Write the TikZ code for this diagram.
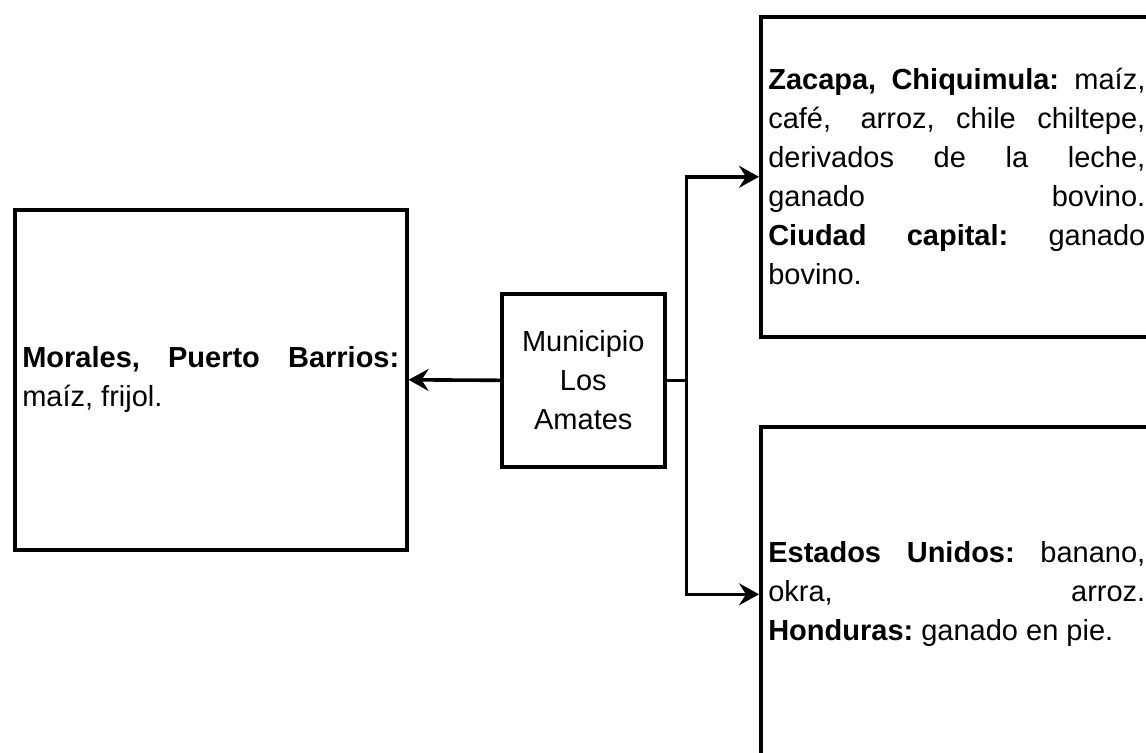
\documentclass[tikz,border=0pt]{standalone}
\usepackage{fontspec}
\setmainfont{Liberation Sans}
\usetikzlibrary{arrows.meta,positioning,calc}

\newlength{\boxtw}
\setlength{\boxtw}{188.5pt}
\newcommand{\jl}[1]{{\spaceskip=0pt\relax\xspaceskip=0pt\relax\makebox[\boxtw][s]{#1}}}

\begin{document}
\begin{tikzpicture}
[ x=0.5pt, y=-0.5pt,
  box/.style={ draw, line width=1.8pt, anchor=north west,
    text width=\boxtw, align=left, inner xsep=3.75pt, minimum width=196pt,
    font=\fontsize{14.5pt}{19.5pt}\selectfont,
    execute at begin node={\frenchspacing\spaceskip=0pt\relax\xspaceskip=0pt\relax}
    },
  munbox/.style={ draw, line width=1.8pt, anchor=north west, align=center,
    minimum width=81.5pt, minimum height=86.5pt,
    font=\fontsize{14.5pt}{19.5pt}\selectfont
    },
  conn/.style={ line width=1.8pt },
  arr/.style={ line width=1.8pt, -{Stealth[length=10pt,width=11pt,inset=3.5pt]} }
]
\useasboundingbox (0,0) rectangle (1146,752);
\clip (0,0) rectangle (1146,752);
%\draw[help lines,step=50] (0,0) grid (1146,752);

\node[box, minimum height=170pt] (morales) at (13,208)
  {\jl{\textbf{Morales, Puerto Barrios:}}\\ maíz, frijol.};
\node[munbox] (mun) at (500,292) {Municipio\\ Los\\ Amates};
\node[box, minimum height=160pt] (zacapa) at (759,15)
  {\jl{\textbf{Zacapa, Chiquimula:} maíz,}\\
   \jl{café,\hspace{4pt} arroz, chile chiltepe,}\\
   \jl{derivados de la leche,}\\
   \jl{ganado bovino.}\\
   \jl{\textbf{Ciudad capital:} ganado}\\
   bovino.};
\node[box, minimum height=167.5pt] (estados) at (759,425)
  {\jl{\textbf{Estados Unidos:} banano,}\\
   \jl{okra, arroz.}\\
   \textbf{Honduras:} ganado en pie.};

\draw[arr] (mun.west) -- (morales.east);
\draw[conn] (mun.east) -- ++(20,0) coordinate (split);
\foreach \t in {zacapa,estados}{
  \draw[arr] (split) |- (\t.west);
}
\end{tikzpicture}
\end{document}
